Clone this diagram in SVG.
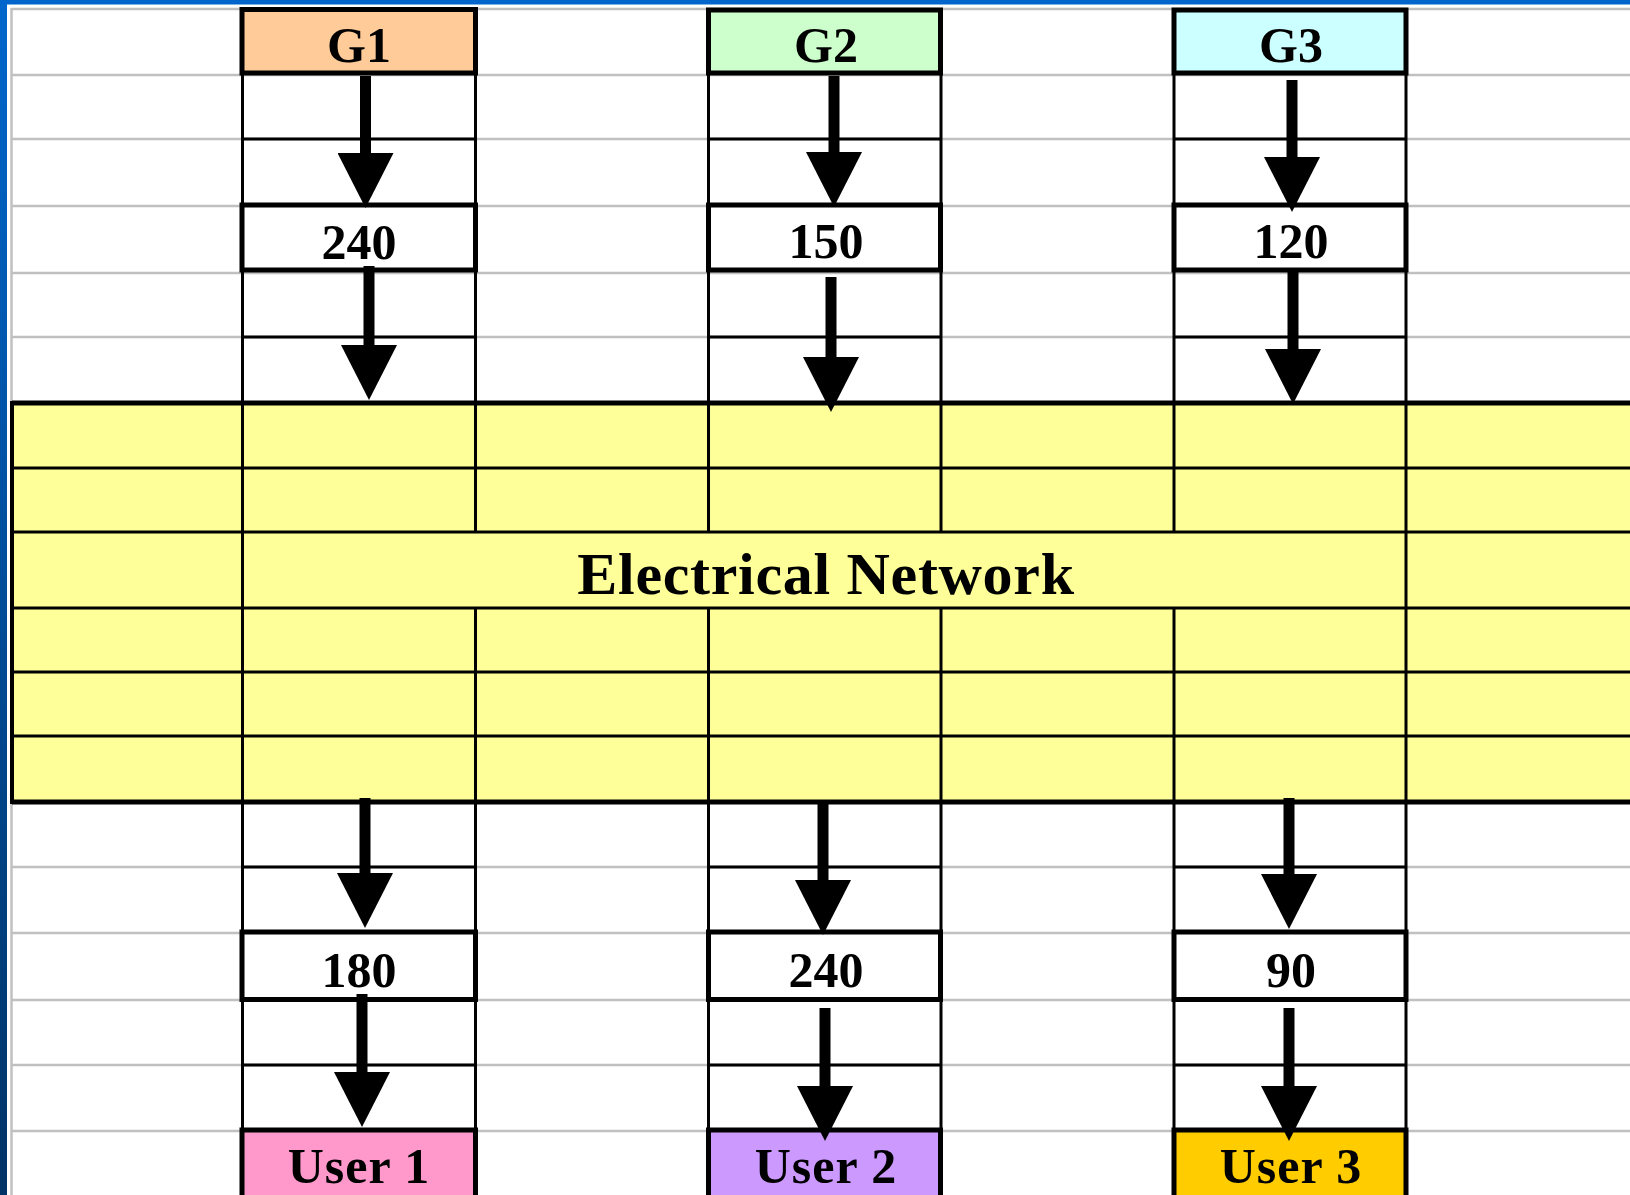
<svg xmlns="http://www.w3.org/2000/svg" width="1630" height="1195" viewBox="0 0 1630 1195">
  <defs>
    <linearGradient id="blueEdge" x1="0" y1="0" x2="0" y2="1">
      <stop offset="0" stop-color="#0066CC"/>
      <stop offset="1" stop-color="#003366"/>
    </linearGradient>
    <marker id="head" viewBox="0 0 55 56" refX="1" refY="28" markerWidth="55" markerHeight="56" markerUnits="userSpaceOnUse" orient="auto">
      <path d="M0,0 L55,28 L0,56 z" fill="#000"/>
    </marker>
  </defs>
  <style>
    .grid { stroke: #C0C0C0; stroke-width: 2.5; fill: none; }
    .thin { stroke: #000; stroke-width: 3; fill: none; }
    .box { stroke: #000; stroke-width: 5; }
    .arrow { stroke: #000; stroke-width: 11; fill: none; marker-end: url(#head); }
    .lbl { font-family: "Liberation Serif", "Times New Roman", serif; font-weight: bold; font-size: 50px; text-anchor: middle; fill: #000; }
    .net { font-family: "Liberation Serif", "Times New Roman", serif; font-weight: bold; font-size: 60px; text-anchor: middle; fill: #000; letter-spacing: 0.7px; }
  </style>

  <rect x="0" y="0" width="1630" height="1195" fill="#FFFFFF"/>

  <g id="gridlines">
    <line class="grid" x1="11" y1="9" x2="1630" y2="9"/>
    <line class="grid" x1="11" y1="75" x2="1630" y2="75"/>
    <line class="grid" x1="11" y1="139" x2="1630" y2="139"/>
    <line class="grid" x1="11" y1="206" x2="1630" y2="206"/>
    <line class="grid" x1="11" y1="273" x2="1630" y2="273"/>
    <line class="grid" x1="11" y1="337" x2="1630" y2="337"/>
    <line class="grid" x1="11" y1="867" x2="1630" y2="867"/>
    <line class="grid" x1="11" y1="933" x2="1630" y2="933"/>
    <line class="grid" x1="11" y1="1000" x2="1630" y2="1000"/>
    <line class="grid" x1="11" y1="1065" x2="1630" y2="1065"/>
    <line class="grid" x1="11" y1="1131" x2="1630" y2="1131"/>
    <line class="grid" x1="11.5" y1="8" x2="11.5" y2="1195"/>
  </g>

  <g id="frame">
    <rect x="0" y="0" width="1630" height="4.5" fill="#0066CC"/>
    <rect x="0" y="0" width="7" height="1195" fill="url(#blueEdge)"/>
  </g>

  <g id="columns">
    <!-- G1 column -->
    <line class="thin" x1="242.5" y1="73" x2="242.5" y2="403"/>
    <line class="thin" x1="475.5" y1="73" x2="475.5" y2="403"/>
    <line class="thin" x1="242.5" y1="802" x2="242.5" y2="1130"/>
    <line class="thin" x1="475.5" y1="802" x2="475.5" y2="1130"/>
    <line class="thin" x1="242.5" y1="139" x2="475.5" y2="139"/>
    <line class="thin" x1="242.5" y1="337" x2="475.5" y2="337"/>
    <line class="thin" x1="242.5" y1="867" x2="475.5" y2="867"/>
    <line class="thin" x1="242.5" y1="1065" x2="475.5" y2="1065"/>
    <!-- G2 column -->
    <line class="thin" x1="708.5" y1="73" x2="708.5" y2="403"/>
    <line class="thin" x1="941" y1="73" x2="941" y2="403"/>
    <line class="thin" x1="708.5" y1="802" x2="708.5" y2="1130"/>
    <line class="thin" x1="941" y1="802" x2="941" y2="1130"/>
    <line class="thin" x1="708.5" y1="139" x2="941" y2="139"/>
    <line class="thin" x1="708.5" y1="337" x2="941" y2="337"/>
    <line class="thin" x1="708.5" y1="867" x2="941" y2="867"/>
    <line class="thin" x1="708.5" y1="1065" x2="941" y2="1065"/>
    <!-- G3 column -->
    <line class="thin" x1="1174" y1="73" x2="1174" y2="403"/>
    <line class="thin" x1="1406" y1="73" x2="1406" y2="403"/>
    <line class="thin" x1="1174" y1="802" x2="1174" y2="1130"/>
    <line class="thin" x1="1406" y1="802" x2="1406" y2="1130"/>
    <line class="thin" x1="1174" y1="139" x2="1406" y2="139"/>
    <line class="thin" x1="1174" y1="337" x2="1406" y2="337"/>
    <line class="thin" x1="1174" y1="867" x2="1406" y2="867"/>
    <line class="thin" x1="1174" y1="1065" x2="1406" y2="1065"/>
  </g>

  <g id="network">
    <rect x="12" y="403" width="1625" height="399" fill="#FFFF99"/>
    <line class="thin" x1="12" y1="468" x2="1630" y2="468"/>
    <line class="thin" x1="12" y1="532" x2="1630" y2="532"/>
    <line class="thin" x1="12" y1="608" x2="1630" y2="608"/>
    <line class="thin" x1="12" y1="672" x2="1630" y2="672"/>
    <line class="thin" x1="12" y1="736" x2="1630" y2="736"/>
    <line class="thin" x1="242.5" y1="403" x2="242.5" y2="802"/>
    <line class="thin" x1="1406" y1="403" x2="1406" y2="802"/>
    <line class="thin" x1="475.5" y1="403" x2="475.5" y2="532"/>
    <line class="thin" x1="708.5" y1="403" x2="708.5" y2="532"/>
    <line class="thin" x1="941" y1="403" x2="941" y2="532"/>
    <line class="thin" x1="1174" y1="403" x2="1174" y2="532"/>
    <line class="thin" x1="475.5" y1="608" x2="475.5" y2="802"/>
    <line class="thin" x1="708.5" y1="608" x2="708.5" y2="802"/>
    <line class="thin" x1="941" y1="608" x2="941" y2="802"/>
    <line class="thin" x1="1174" y1="608" x2="1174" y2="802"/>
    <line x1="12" y1="403" x2="1630" y2="403" stroke="#000" stroke-width="5"/>
    <line x1="12" y1="802" x2="1630" y2="802" stroke="#000" stroke-width="5"/>
    <line x1="12" y1="401" x2="12" y2="804" stroke="#000" stroke-width="4"/>
    <text class="net" x="826" y="594">Electrical Network</text>
  </g>

  <g id="G1">
    <rect class="box" x="242" y="9.5" width="233.5" height="63.5" fill="#FFCC99"/>
    <text class="lbl" x="359" y="62">G1</text>
  </g>
  <g id="G2">
    <rect class="box" x="708.5" y="10" width="232" height="63" fill="#CCFFCC"/>
    <text class="lbl" x="826" y="62">G2</text>
  </g>
  <g id="G3">
    <rect class="box" x="1174" y="10" width="232" height="63" fill="#CCFFFF"/>
    <text class="lbl" x="1291" y="62">G3</text>
  </g>

  <g id="gen1">
    <rect class="box" x="242" y="205" width="233.5" height="65" fill="#FFFFFF"/>
    <text class="lbl" x="359" y="259">240</text>
  </g>
  <g id="gen2">
    <rect class="box" x="708.5" y="205" width="232" height="65" fill="#FFFFFF"/>
    <text class="lbl" x="826" y="258">150</text>
  </g>
  <g id="gen3">
    <rect class="box" x="1174" y="205" width="232" height="65" fill="#FFFFFF"/>
    <text class="lbl" x="1291" y="258">120</text>
  </g>

  <g id="use1">
    <rect class="box" x="242" y="932" width="233.5" height="67.5" fill="#FFFFFF"/>
    <text class="lbl" x="359" y="987">180</text>
  </g>
  <g id="use2">
    <rect class="box" x="708.5" y="932" width="232" height="67.5" fill="#FFFFFF"/>
    <text class="lbl" x="826" y="987">240</text>
  </g>
  <g id="use3">
    <rect class="box" x="1174" y="932" width="232" height="67.5" fill="#FFFFFF"/>
    <text class="lbl" x="1291" y="987">90</text>
  </g>

  <g id="User1">
    <rect class="box" x="242" y="1130" width="233.5" height="80" fill="#FF99CC"/>
    <text class="lbl" x="359" y="1183" letter-spacing="1">User 1</text>
  </g>
  <g id="User2">
    <rect class="box" x="708.5" y="1130" width="232" height="80" fill="#CC99FF"/>
    <text class="lbl" x="826" y="1183" letter-spacing="1">User 2</text>
  </g>
  <g id="User3">
    <rect class="box" x="1174" y="1130" width="232" height="80" fill="#FFCC00"/>
    <text class="lbl" x="1291" y="1183" letter-spacing="1">User 3</text>
  </g>

  <g id="connectors">
    <line class="arrow" x1="365.5" y1="76" x2="365.5" y2="154"/>
    <line class="arrow" x1="369" y1="266" x2="369" y2="346"/>
    <line class="arrow" x1="365" y1="798" x2="365" y2="874"/>
    <line class="arrow" x1="362" y1="994" x2="362" y2="1073"/>
    <line class="arrow" x1="834" y1="76" x2="834" y2="153"/>
    <line class="arrow" x1="831" y1="277" x2="831" y2="358"/>
    <line class="arrow" x1="823" y1="800" x2="823" y2="881"/>
    <line class="arrow" x1="825" y1="1008" x2="825" y2="1087"/>
    <line class="arrow" x1="1292" y1="80" x2="1292" y2="158"/>
    <line class="arrow" x1="1293" y1="272" x2="1293" y2="350"/>
    <line class="arrow" x1="1289" y1="798" x2="1289" y2="875"/>
    <line class="arrow" x1="1289" y1="1008" x2="1289" y2="1087"/>
  </g>
</svg>
